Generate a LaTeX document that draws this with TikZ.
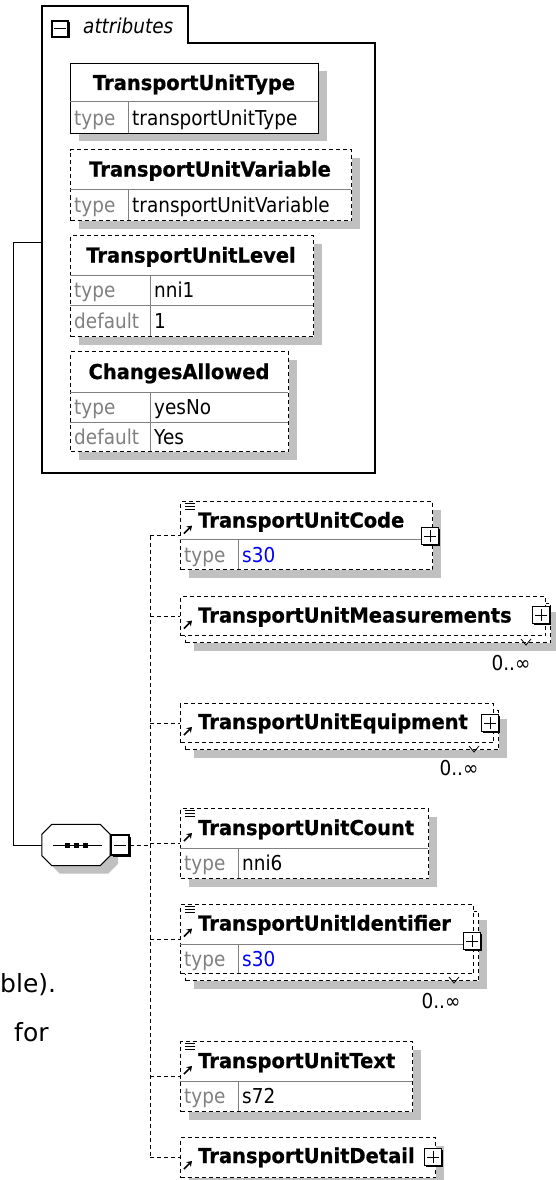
\documentclass[tikz,border=0pt]{standalone}
\usepackage{fontspec}
\usepackage{tikz}
\usetikzlibrary{positioning,arrows.meta,shadows}
\newfontfamily\boxfont[FakeStretch=0.9]{DejaVu Sans}
\newfontfamily\namefont[FakeStretch=0.95,BoldFeatures={FakeBold=0.8}]{DejaVu Sans}
\newfontfamily\pagefont{DejaVu Sans}
\definecolor{shadowgray}{RGB}{192,192,192}
\definecolor{labelgray}{RGB}{128,128,128}
\definecolor{typeblue}{RGB}{0,0,255}
\tikzset{
  attrbox/.style={draw,line width=1pt,fill=white,anchor=north west,inner sep=0pt,
            drop shadow={shadow xshift=8pt,shadow yshift=-8pt,fill=shadowgray,opacity=1}},
  optbox/.style={attrbox,dash pattern=on 4pt off 3pt},
  frontbox/.style={draw,line width=1pt,fill=white,anchor=north west,inner sep=0pt,
            dash pattern=on 4pt off 3pt},
  cellline/.style={labelgray,line width=1pt},
  namelbl/.style={anchor=base,inner sep=0pt,font=\namefont\bfseries\fontsize{20.5}{24}\selectfont},
  elemlbl/.style={namelbl,anchor=base west},
  keylbl/.style={anchor=base west,inner sep=0pt,labelgray,font=\boxfont\fontsize{20.5}{24}\selectfont},
  vallbl/.style={keylbl,black},
  typelbl/.style={keylbl,typeblue},
  occurs/.style={keylbl,black,anchor=base},
  pagetext/.style={inner sep=0pt,font=\pagefont\fontsize{25}{30}\selectfont},
  expander/.style={draw,line width=1.2pt,fill=white,minimum size=17pt,inner sep=0pt,
            drop shadow={shadow xshift=1.5pt,shadow yshift=-1.5pt,fill=black,opacity=1}},
  plusbox/.style={expander,path picture={
      \draw[line width=1pt] ([xshift=-6pt]path picture bounding box.center) -- ([xshift=6pt]path picture bounding box.center)
        ([yshift=-6pt]path picture bounding box.center) -- ([yshift=6pt]path picture bounding box.center);}},
  minusbox/.style={expander,path picture={
      \draw[line width=1pt] ([xshift=-6pt]path picture bounding box.center) -- ([xshift=6pt]path picture bounding box.center);}},
  seqnode/.style={minimum width=68pt,minimum height=41pt,inner sep=0pt},
  seqshape/.style={draw,line width=1pt,fill=white,
            drop shadow={shadow xshift=8pt,shadow yshift=-8pt,fill=shadowgray,opacity=1}},
  link/.style={line width=1pt},
  optlink/.style={line width=1pt,dash pattern=on 4pt off 3pt},
  refarrow/.style={line width=1.7pt,-{Stealth[length=5pt,width=6.5pt]}},
}
\begin{document}
\begin{tikzpicture}[x=1pt,y=-1pt]
  \useasboundingbox (0,0) rectangle (556,1180);

  % attributes group
  \draw[line width=1.2pt,fill=white] (42,473) -- (42,6) -- (188,6) -- (188,43) -- (375,43) -- (375,473) -- cycle;
  \node[minusbox,minimum size=16pt] (attrminus) at (60,29) {};
  \node[keylbl,black,font=\boxfont\itshape\fontsize{20.5}{24}\selectfont] (attrtitle) at (83,34) {attributes};
  \coordinate (attrport) at (42,242);

  \node[attrbox,minimum width=248pt,minimum height=70pt] (unittype) at (70,63) {};
  \draw[cellline] (70,102) -- (318,102) (128,102) -- (128,133);
  \node[namelbl] (unittypename) at (194,90) {TransportUnitType};
  \node[keylbl] (unittypekey) at (74,125) {type};
  \node[vallbl] (unittypeval) at (132,125) {transportUnitType};

  \node[optbox,minimum width=281pt,minimum height=71pt] (unitvar) at (70,149) {};
  \draw[cellline] (70,189) -- (351,189) (128,189) -- (128,220);
  \node[namelbl] (unitvarname) at (210,176.5) {TransportUnitVariable};
  \node[keylbl] (unitvarkey) at (74,212) {type};
  \node[vallbl] (unitvarval) at (132,212) {transportUnitVariable};

  \node[optbox,minimum width=243pt,minimum height=101pt] (unitlevel) at (70,235) {};
  \draw[cellline] (70,275) -- (313,275) (70,305) -- (313,305) (150,275) -- (150,336);
  \node[namelbl] (unitlevelname) at (191,262.5) {TransportUnitLevel};
  \node[keylbl] (unitlevelkey) at (74,297.5) {type};
  \node[vallbl] (unitlevelval) at (154,297.5) {nni1};
  \node[keylbl] (unitleveldefkey) at (74,328) {default};
  \node[vallbl] (unitleveldef) at (154,328) {1};

  \node[optbox,minimum width=218pt,minimum height=100pt] (changes) at (70,351) {};
  \draw[cellline] (70,392) -- (288,392) (70,422) -- (288,422) (150,392) -- (150,451);
  \node[namelbl] (changesname) at (179,379) {ChangesAllowed};
  \node[keylbl] (changeskey) at (74,414.5) {type};
  \node[vallbl] (changesval) at (154,414.5) {yesNo};
  \node[keylbl] (changesdefkey) at (74,444) {default};
  \node[vallbl] (changesdef) at (154,444) {Yes};

  % sequence
  \node[seqnode] (seq) at (76,845) {};
  \draw[seqshape] ([xshift=10pt]seq.north west) -- ([xshift=-10pt]seq.north east)
    -- ([yshift=-10pt]seq.north east) -- ([yshift=10pt]seq.south east)
    -- ([xshift=-10pt]seq.south east) -- ([xshift=10pt]seq.south west)
    -- ([yshift=10pt]seq.south west) -- ([yshift=-10pt]seq.north west) -- cycle;
  \draw[link] ([xshift=11pt]seq.west) -- ([xshift=-8pt]seq.east);
  \foreach \dx in {-9,0,9}
    \fill ([xshift=\dx pt]seq.center) +(-2.5,-2.5) rectangle +(2.5,2.5);
  \node[minusbox,minimum width=18pt,minimum height=20pt] (seqminus) at (120,845) {};
  \draw[link] (attrport) -- ++(-29,0) |- (seq.west);

  % child elements
  \node[optbox,minimum width=252pt,minimum height=68pt] (code) at (180,501) {};
  \draw[cellline] (180,539) -- (432,539) (238,539) -- (238,569);
  \node[elemlbl] (codename) at (198,527.5) {TransportUnitCode};
  \node[keylbl] (codekey) at (184,562) {type};
  \node[typelbl] (codeval) at (242,562) {s30};
  \node[plusbox] (codeplus) at (430,536) {};

  \node[optbox,minimum width=365pt,minimum height=39pt] (measback) at (185,603) {};
  \node[frontbox,minimum width=365pt,minimum height=39pt] (meas) at (180,596) {};
  \node[elemlbl] (measname) at (198,622.5) {TransportUnitMeasurements};
  \node[plusbox] (measplus) at (541,615) {};
  \node[occurs] (measocc) at (511,670) {0..∞};

  \node[optbox,minimum width=313pt,minimum height=39pt] (equipback) at (185,710) {};
  \node[frontbox,minimum width=313pt,minimum height=39pt] (equip) at (180,703) {};
  \node[elemlbl] (equipname) at (198,729) {TransportUnitEquipment};
  \node[plusbox] (equipplus) at (490,723) {};
  \node[occurs] (equipocc) at (459,775) {0..∞};

  \node[optbox,minimum width=248pt,minimum height=70pt] (count) at (180,808) {};
  \draw[cellline] (180,848) -- (428,848) (238,848) -- (238,878);
  \node[elemlbl] (countname) at (198,835) {TransportUnitCount};
  \node[keylbl] (countkey) at (184,870.5) {type};
  \node[vallbl] (countval) at (242,870.5) {nni6};

  \node[optbox,minimum width=293pt,minimum height=69pt] (identback) at (185,911) {};
  \node[frontbox,minimum width=293pt,minimum height=69pt] (ident) at (180,904) {};
  \draw[cellline] (180,944) -- (473,944) (238,944) -- (238,973);
  \node[elemlbl] (identname) at (198,930.5) {TransportUnitIdentifier};
  \node[keylbl] (identkey) at (184,966) {type};
  \node[typelbl] (identval) at (242,966) {s30};
  \node[plusbox] (identplus) at (472,941) {};
  \node[occurs] (identocc) at (441,1008) {0..∞};

  \node[optbox,minimum width=232pt,minimum height=70pt] (text) at (180,1041) {};
  \draw[cellline] (180,1081) -- (412,1081) (238,1081) -- (238,1111);
  \node[elemlbl] (textname) at (198,1068) {TransportUnitText};
  \node[keylbl] (textkey) at (184,1103.5) {type};
  \node[vallbl] (textval) at (242,1103.5) {s72};

  \node[optbox,minimum width=255pt,minimum height=40pt] (detail) at (180,1137) {};
  \node[elemlbl] (detailname) at (198,1163) {TransportUnitDetail};
  \node[plusbox] (detailplus) at (433,1157) {};

  % icons
  \foreach \n in {code,count,ident,text}
    \foreach \dy in {2,5,8}
      \draw[line width=0.8pt] ([shift={(5pt,-\dy pt)}]\n.north west) -- ++(10,0);
  \foreach \n in {codename,measname,equipname,countname,identname,textname,detailname}
    \draw[refarrow] ([shift={(-14pt,-6pt)}]\n.base west) -- ++(8,-8);
  \foreach \n in {measback,equipback,identback}
    \draw[line width=0.8pt] ([shift={(-30pt,4pt)}]\n.south east) -- ++(5,6) -- ++(5,-6);

  % connectors
  \coordinate (spine) at (150,536);
  \draw[optlink] (code.west -| spine) -- (detail.west -| spine);
  \foreach \n in {code,meas,equip,count,ident,text,detail}
    \draw[optlink] (\n.west -| spine) -- (\n.west);
  \draw[optlink] (seqminus.east) -- (seqminus.east -| spine);

  % page text behind the diagram
  \node[pagetext,anchor=base west] (pagefrag1) at (0,992) {ble).};
  \node[pagetext,anchor=base west] (pagefrag2) at (14,1041) {for};
\end{tikzpicture}
\end{document}
